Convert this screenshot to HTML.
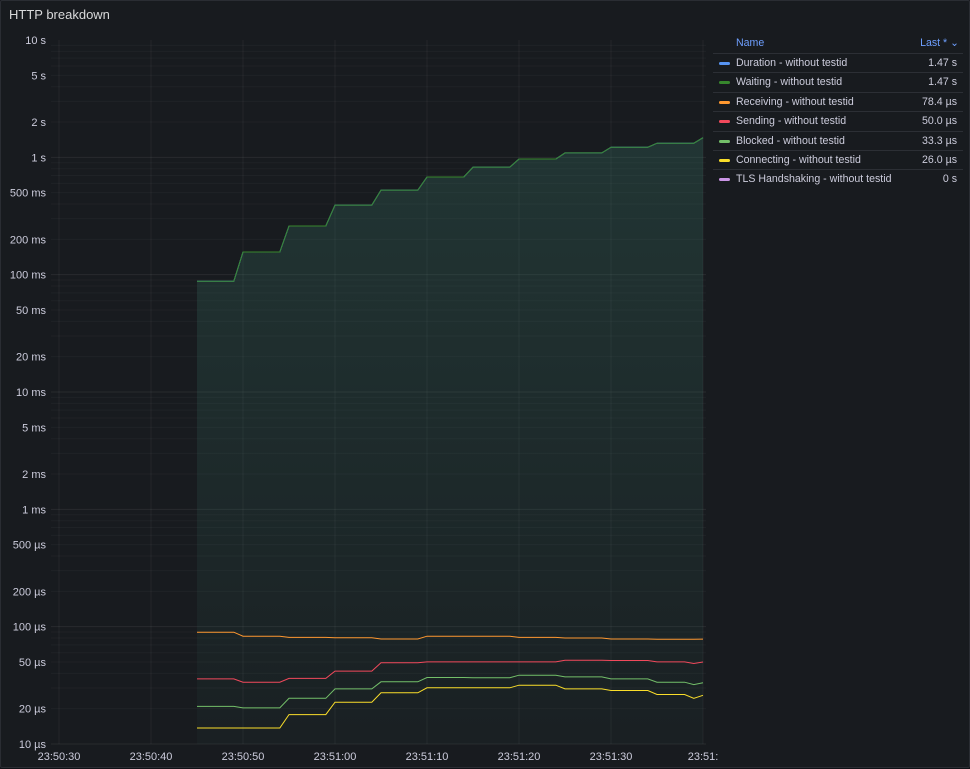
<!DOCTYPE html>
<html><head><meta charset="utf-8"><style>
body{margin:0;background:#111217;font-family:"Liberation Sans",sans-serif;}
#panel{position:absolute;left:0;top:0;width:968px;height:766px;background:#181b1f;border:1px solid #2a2d33;border-radius:2px;}
#title{position:absolute;left:8px;top:6px;color:#d8d9da;font-size:13px;}
svg text{font-family:"Liberation Sans",sans-serif;}
#legend{position:absolute;left:712px;top:32px;width:250px;font-size:10.6px;color:#ccccdc;}
.hdr{height:20px;position:relative;color:#6e9fff;}
.row{height:18.4px;border-top:1px solid #2c2f35;position:relative;}
.sw{position:absolute;left:6px;top:8px;width:11px;height:3px;border-radius:2px;}
.nm{position:absolute;left:23px;top:3px;}
.vl{position:absolute;right:6px;top:3px;}
</style></head><body>
<div id="panel">
<div id="title">HTTP breakdown</div>
<svg id="chart" width="970" height="768" style="position:absolute;left:0;top:0"></svg>
<div id="legend">
<div class="hdr"><span style="position:absolute;left:23px;top:4px">Name</span><span style="position:absolute;right:4px;top:4px">Last * ⌄</span></div>
</div>
</div>
<script>
const times=[45,46,47,48,49,50,51,52,53,54,55,56,57,58,59,60,61,62,63,64,65,66,67,68,69,70,71,72,73,74,75,76,77,78,79,80,81,82,83,84,85,86,87,88,89,90,91,92,93,94,95,96,97,98,99,100];
function steps(vals,last){const a=[];vals.forEach(v=>{for(let i=0;i<5;i++)a.push(v);});if(last!==undefined)a[a.length-1]=last;return a;}
const waiting=steps([0.088,0.156,0.26,0.392,0.526,0.68,0.826,0.968,1.09,1.22,1.32]).concat([1.47]);
const duration=waiting.slice();
const receiving=steps([89.7e-6,83e-6,81e-6,80.3e-6,78.5e-6,83e-6,83e-6,81e-6,80e-6,78.5e-6,78.2e-6]).concat([78.4e-6]);
const sending=steps([35.9e-6,33.6e-6,36.2e-6,41.8e-6,49.2e-6,50.1e-6,50.1e-6,50.1e-6,51.8e-6,51.5e-6,50.1e-6],48.5e-6).concat([50.0e-6]);
const blocked=steps([20.9e-6,20.3e-6,24.5e-6,29.5e-6,33.9e-6,36.9e-6,36.7e-6,38.6e-6,37.3e-6,35.9e-6,33.6e-6],32.1e-6).concat([33.3e-6]);
const connecting=steps([13.7e-6,13.7e-6,17.8e-6,22.7e-6,27.3e-6,30.1e-6,30.1e-6,31.7e-6,29.5e-6,28.6e-6,26.4e-6],24.5e-6).concat([26.0e-6]);
const yTickVals=[10,5,2,1,0.5,0.2,0.1,0.05,0.02,0.01,0.005,0.002,0.001,5e-4,2e-4,1e-4,5e-5,2e-5,1e-5];
const yTickLabels=["10 s","5 s","2 s","1 s","500 ms","200 ms","100 ms","50 ms","20 ms","10 ms","5 ms","2 ms","1 ms","500 µs","200 µs","100 µs","50 µs","20 µs","10 µs"];
const xTickVals=[30,40,50,60,70,80,90,100];
const xTickLabels=["23:50:30","23:50:40","23:50:50","23:51:00","23:51:10","23:51:20","23:51:30","23:51:"];
const legendNames=["Duration - without testid","Waiting - without testid","Receiving - without testid","Sending - without testid","Blocked - without testid","Connecting - without testid","TLS Handshaking - without testid"];
const legendValues=["1.47 s","1.47 s","78.4 µs","50.0 µs","33.3 µs","26.0 µs","0 s"];
const colors=["#5794f2","#37872d","#ff9830","#f2495c","#73bf69","#fade2a","#ca95e5"];

const X0=50,X1=705,Y0=39,Y1=743;
const x=t=>58+(t-30)*9.2;
const y=v=>Y0+(1-Math.log10(v))*(Y1-Y0)/6;
const svg=document.getElementById('chart');const NS='http://www.w3.org/2000/svg';
function el(tag,attrs,parent){const e=document.createElementNS(NS,tag);for(const k in attrs)e.setAttribute(k,attrs[k]);(parent||svg).appendChild(e);return e;}
for(let d=-5;d<1;d++)for(let m=1;m<10;m++){const v=m*Math.pow(10,d);const l=el('line',{x1:X0,x2:X1,y1:y(v),y2:y(v),stroke:'#ffffff',"stroke-opacity":m==1?0.07:0.03});

}
yTickVals.forEach((v,i)=>{const t=el('text',{x:45,y:y(v)+4,"text-anchor":"end","font-size":11,fill:'#ccccdc'});t.textContent=yTickLabels[i];

});
xTickVals.forEach((v,i)=>{const g=el('line',{x1:x(v),x2:x(v),y1:Y0,y2:Y1,stroke:'#ffffff',"stroke-opacity":0.05});


const t=el('text',{x:x(v),y:759,"text-anchor":"middle","font-size":11,fill:'#ccccdc'});t.textContent=xTickLabels[i];

});
const defs=el('defs',{});const gr=el('linearGradient',{id:'gf',x1:0,y1:0,x2:0,y2:1},defs);
el('stop',{offset:'0','stop-color':'#3a7a6a','stop-opacity':0.28},gr);el('stop',{offset:'1','stop-color':'#3a7a6a','stop-opacity':0.05},gr);
const pts=a=>a.map((v,i)=>x(times[i]).toFixed(1)+','+y(v).toFixed(1)).join(' ');
const area=el('polygon',{points:pts(waiting)+' '+x(times[times.length-1])+','+Y1+' '+x(times[0])+','+Y1,fill:'url(#gf)'});


const series=[[duration,0,'duration-line'],[waiting,1,'waiting-line'],[receiving,2,'receiving-line'],[sending,3,'sending-line'],[blocked,4,'blocked-line'],[connecting,5,'connecting-line']];
series.forEach(([a,c,n])=>{const p=el('polyline',{points:pts(a),fill:'none',stroke:colors[c],"stroke-width":1});

});
const lg=document.getElementById('legend');
legendNames.forEach((n,i)=>{const r=document.createElement('div');r.className='row';


r.innerHTML='<div class="sw" style="background:'+colors[i]+'"></div><span class="nm">'+n+'</span><span class="vl">'+legendValues[i]+'</span>';lg.appendChild(r);});
</script>
</body></html>
